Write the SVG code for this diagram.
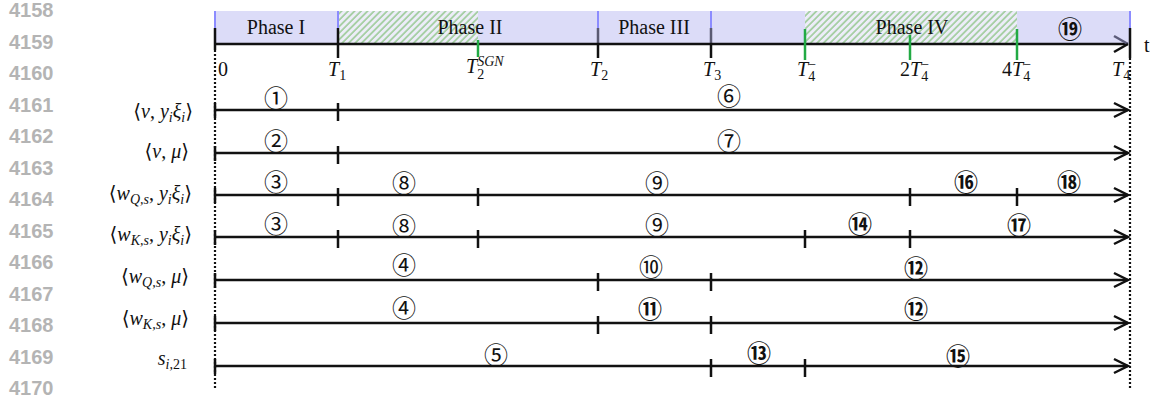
<svg xmlns="http://www.w3.org/2000/svg" width="1153" height="402" viewBox="0 0 1153 402">
<style>
.ln{font-family:"Liberation Sans",Arial,sans-serif;font-weight:bold;font-size:20px;fill:#b4b4b4}
.ph{font-family:"Liberation Serif","Times New Roman",serif;font-size:20px;fill:#111}
.m{font-family:"Liberation Serif","DejaVu Serif",serif;font-size:20px;fill:#111}
.i{font-style:italic}
.s{font-style:italic;font-size:14px}
.n{font-style:normal;font-size:14px}
.c{font-family:"Noto Sans CJK JP","DejaVu Sans",sans-serif;font-size:24px;fill:#111;text-anchor:middle}
.cb{font-weight:bold}
.ax{stroke:#111;stroke-width:2.5;fill:none}
.tk{stroke:#111;stroke-width:2.5}
.gt{stroke:#22aa44;stroke-width:2.5}
.be{stroke:#8c8cff;stroke-width:2}
.dot{stroke:#111;stroke-width:2.2;stroke-dasharray:2 2}
</style>
<defs>
<pattern id="hatch" width="4.6" height="4.6" patternUnits="userSpaceOnUse" patternTransform="rotate(45)">
<rect width="4.6" height="4.6" fill="#ededf9"/>
<line x1="1" y1="0" x2="1" y2="4.6" stroke="#9ccb98" stroke-width="1.6"/>
</pattern>
<marker id="arr" markerUnits="userSpaceOnUse" markerWidth="20" markerHeight="20" refX="0" refY="0" viewBox="-16 -10 20 20" orient="auto" overflow="visible">
<path d="M-14,-7 L0,0 L-14,7" fill="none" stroke="#111" stroke-width="2.5"/>
</marker>
</defs>
<g id="line-numbers">
<text class="ln" x="9" y="17">4158</text>
<text class="ln" x="9" y="48.5">4159</text>
<text class="ln" x="9" y="80">4160</text>
<text class="ln" x="9" y="111.5">4161</text>
<text class="ln" x="9" y="143">4162</text>
<text class="ln" x="9" y="174.5">4163</text>
<text class="ln" x="9" y="206">4164</text>
<text class="ln" x="9" y="237.5">4165</text>
<text class="ln" x="9" y="269">4166</text>
<text class="ln" x="9" y="300.5">4167</text>
<text class="ln" x="9" y="332">4168</text>
<text class="ln" x="9" y="363.5">4169</text>
<text class="ln" x="9" y="395">4170</text>
</g>
<g id="header">
<rect x="215" y="11" width="915" height="33" fill="#dcdcf8"/>
<rect x="338" y="11" width="140" height="33" fill="url(#hatch)"/>
<rect x="805" y="11" width="212" height="33" fill="url(#hatch)"/>
<line class="be" x1="215" y1="11" x2="215" y2="28"/>
<line class="be" x1="338" y1="11" x2="338" y2="28"/>
<line class="be" x1="598" y1="11" x2="598" y2="28"/>
<line class="be" x1="711" y1="11" x2="711" y2="28"/>
<line class="be" x1="1130" y1="11" x2="1130" y2="28"/>
<text class="ph" x="276" y="34" text-anchor="middle">Phase I</text>
<text class="ph" x="470" y="34" text-anchor="middle">Phase II</text>
<text class="ph" x="654" y="34" text-anchor="middle">Phase III</text>
<text class="ph" x="912" y="34" text-anchor="middle">Phase IV</text>
<text class="c cb" x="1070" y="38">⑲</text>
</g>
<g id="time-axis">
<line class="tk" x1="215" y1="28" x2="215" y2="50"/>
<line class="tk" x1="338" y1="28" x2="338" y2="58"/>
<line stroke="#5a5a72" stroke-width="2.5" x1="598" y1="28" x2="598" y2="44"/>
<line class="tk" x1="598" y1="44" x2="598" y2="58"/>
<line stroke="#5a5a72" stroke-width="2.5" x1="711" y1="28" x2="711" y2="44"/>
<line class="tk" x1="711" y1="44" x2="711" y2="58"/>
<line class="tk" x1="1130" y1="28" x2="1130" y2="58"/>
<line class="ax" x1="215" y1="44" x2="1128" y2="44"/>
<path d="M1114,36 L1128,44" stroke="#5c5c7a" stroke-width="2.5" fill="none"/>
<path d="M1128,44 L1114,52" stroke="#111" stroke-width="2.5" fill="none"/>
<line class="gt" x1="478" y1="40" x2="478" y2="57"/>
<line class="gt" x1="805" y1="29" x2="805" y2="60"/>
<line class="gt" x1="910" y1="35" x2="910" y2="60"/>
<line class="gt" x1="1017" y1="29" x2="1017" y2="60"/>
<text class="ph" x="1144" y="52" font-size="18">t</text>
<text class="m" x="218" y="76" font-size="18">0</text>
<text class="m" x="328" y="76" font-size="18"><tspan class="i">T</tspan><tspan class="n" dy="4">1</tspan></text>
<text class="m" x="466" y="73" font-size="18"><tspan class="i">T</tspan><tspan class="n" dy="6">2</tspan><tspan class="s" font-size="12" dx="-7" dy="-13">SGN</tspan></text>
<text class="m" x="590" y="76" font-size="18"><tspan class="i">T</tspan><tspan class="n" dy="4">2</tspan></text>
<text class="m" x="703" y="76" font-size="18"><tspan class="i">T</tspan><tspan class="n" dy="4">3</tspan></text>
<text class="m" x="797" y="76" font-size="18"><tspan class="i">T</tspan><tspan class="n" dy="5">4</tspan><tspan class="n" dx="-7" dy="-12">−</tspan></text>
<text class="m" x="900" y="76" font-size="18">2<tspan class="i">T</tspan><tspan class="n" dy="5">4</tspan><tspan class="n" dx="-7" dy="-12">−</tspan></text>
<text class="m" x="1002" y="76" font-size="18">4<tspan class="i">T</tspan><tspan class="n" dy="5">4</tspan><tspan class="n" dx="-7" dy="-12">−</tspan></text>
<text class="m" x="1112" y="76" font-size="18"><tspan class="i">T</tspan><tspan class="n" dy="4">4</tspan></text>
</g>
<g id="boundaries">
<line class="dot" x1="215" y1="50" x2="215" y2="390"/>
<line class="dot" x1="1130" y1="58" x2="1130" y2="390"/>
</g>
<g id="row-labels">
<text class="m" x="193" y="118" text-anchor="end">⟨<tspan class="i">v</tspan>, <tspan class="i">y</tspan><tspan class="s" dy="4">i</tspan><tspan class="i" dy="-4">ξ</tspan><tspan class="s" dy="4">i</tspan><tspan dy="-4">⟩</tspan></text>
<text class="m" x="189" y="158" text-anchor="end">⟨<tspan class="i">v</tspan>, <tspan class="i">μ</tspan>⟩</text>
<text class="m" x="192" y="200" text-anchor="end">⟨<tspan class="i">w</tspan><tspan class="s" dy="4">Q,s</tspan><tspan dy="-4">, </tspan><tspan class="i">y</tspan><tspan class="s" dy="4">i</tspan><tspan class="i" dy="-4">ξ</tspan><tspan class="s" dy="4">i</tspan><tspan dy="-4">⟩</tspan></text>
<text class="m" x="192" y="241" text-anchor="end">⟨<tspan class="i">w</tspan><tspan class="s" dy="4">K,s</tspan><tspan dy="-4">, </tspan><tspan class="i">y</tspan><tspan class="s" dy="4">i</tspan><tspan class="i" dy="-4">ξ</tspan><tspan class="s" dy="4">i</tspan><tspan dy="-4">⟩</tspan></text>
<text class="m" x="189" y="283" text-anchor="end">⟨<tspan class="i">w</tspan><tspan class="s" dy="4">Q,s</tspan><tspan dy="-4">, </tspan><tspan class="i">μ</tspan>⟩</text>
<text class="m" x="189" y="325" text-anchor="end">⟨<tspan class="i">w</tspan><tspan class="s" dy="4">K,s</tspan><tspan dy="-4">, </tspan><tspan class="i">μ</tspan>⟩</text>
<text class="m" x="187" y="365" text-anchor="end"><tspan class="i">s</tspan><tspan class="s" dy="4">i,</tspan><tspan class="n">21</tspan></text>
</g>
<g id="connectors">
<line class="ax" x1="215" y1="110" x2="1128" y2="110" marker-end="url(#arr)"/>
<line class="ax" x1="215" y1="153" x2="1128" y2="153" marker-end="url(#arr)"/>
<line class="ax" x1="215" y1="195" x2="1128" y2="195" marker-end="url(#arr)"/>
<line class="ax" x1="215" y1="237" x2="1128" y2="237" marker-end="url(#arr)"/>
<line class="ax" x1="215" y1="280" x2="1128" y2="280" marker-end="url(#arr)"/>
<line class="ax" x1="215" y1="323" x2="1128" y2="323" marker-end="url(#arr)"/>
<line class="ax" x1="215" y1="366" x2="1128" y2="366" marker-end="url(#arr)"/>
<path class="tk" d="M215,103V118 M215,146V161 M215,188V203 M215,230V245 M215,273V288 M215,316V331 M215,359V374"/>
<path class="tk" d="M338,103V121 M338,146V164"/>
<path class="tk" d="M338,188V206 M478,188V206 M910,188V206 M1017,188V206"/>
<path class="tk" d="M338,230V248 M478,230V248 M805,230V248 M910,230V248"/>
<path class="tk" d="M598,273V291 M711,273V291 M598,316V334 M711,316V334"/>
<path class="tk" d="M711,359V377 M805,359V377"/>
</g>
<g id="stage-labels">
<text class="c" x="276" y="107">①</text>
<text class="c" x="729" y="105">⑥</text>
<text class="c" x="276" y="150">②</text>
<text class="c" x="729" y="150">⑦</text>
<text class="c" x="276" y="191">③</text>
<text class="c" x="404" y="192">⑧</text>
<text class="c" x="657" y="192">⑨</text>
<text class="c cb" x="966" y="191">⑯</text>
<text class="c cb" x="1069" y="191">⑱</text>
<text class="c" x="276" y="233">③</text>
<text class="c" x="404" y="235">⑧</text>
<text class="c" x="657" y="234">⑨</text>
<text class="c cb" x="860" y="233">⑭</text>
<text class="c cb" x="1019" y="234">⑰</text>
<text class="c" x="404" y="274">④</text>
<text class="c" x="651" y="276">⑩</text>
<text class="c cb" x="916" y="277">⑫</text>
<text class="c" x="404" y="317">④</text>
<text class="c cb" x="650" y="318">⑪</text>
<text class="c cb" x="916" y="318">⑫</text>
<text class="c" x="496" y="364">⑤</text>
<text class="c cb" x="759" y="362">⑬</text>
<text class="c cb" x="958" y="365">⑮</text>
</g>
</svg>
